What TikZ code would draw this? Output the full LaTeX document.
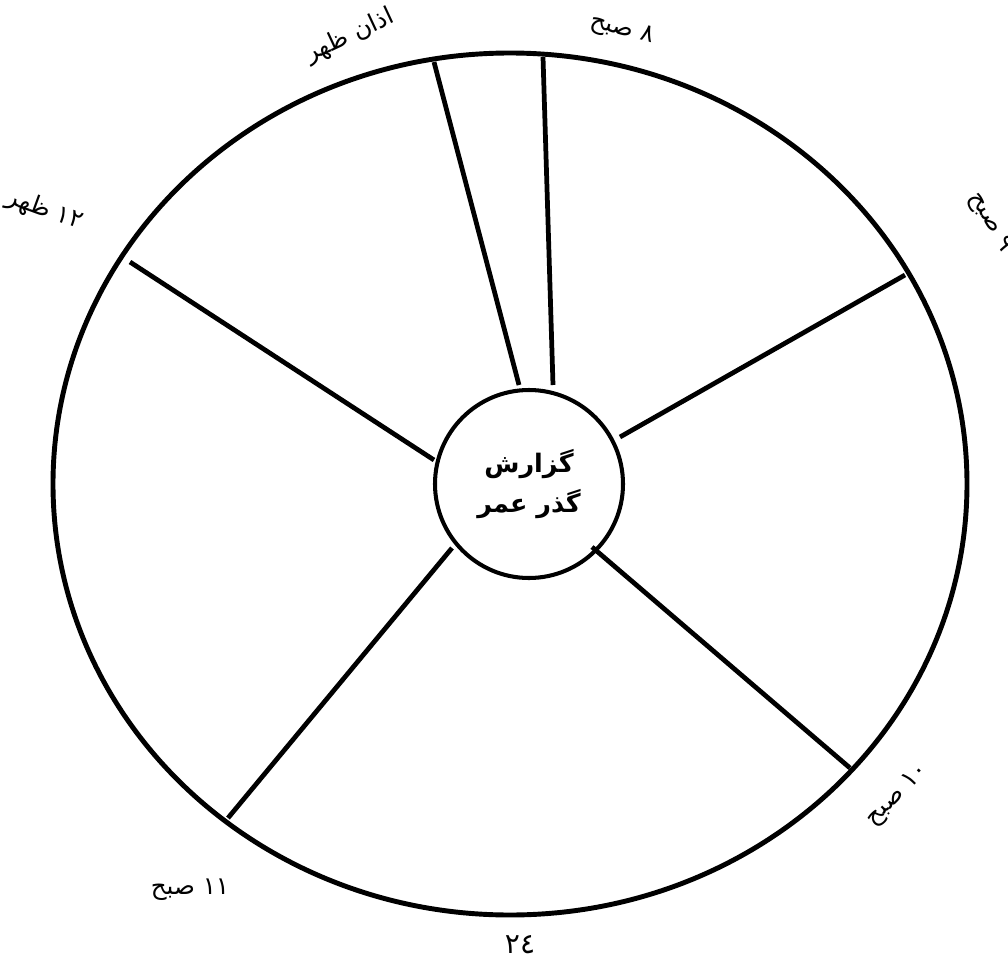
\documentclass[tikz,border=0pt]{standalone}
\usepackage{fontspec}
\TeXXeTstate=1
\newfontfamily\arabicfont[Script=Arabic]{DejaVu Sans}
\begin{document}
\begin{tikzpicture}[x=0.02cm,y=-0.02cm,
  rim/.style={line width=2.8pt},
  spoke/.style={line width=2.7pt},
  lbl/.style={font=\arabicfont\fontsize{14}{16}\selectfont, inner sep=0pt},
  hub/.style={circle, draw, line width=2.3pt, minimum size=188*0.02cm, inner sep=0pt,
    font=\arabicfont\bfseries\fontsize{14.5}{22}\selectfont, align=center}]
\useasboundingbox (0,0) rectangle (1008,967);
% outer rim
\draw[rim] (510,484) ellipse [x radius=457, y radius=431];
% hub
\node[hub] (hub) at (529,484) {\beginR گزارش\endR\\[1pt]\beginR گذر عمر\endR};
% spoke end points
\coordinate (i1) at (519,385); \coordinate (o1) at (434,62);
\coordinate (i2) at (553,385); \coordinate (o2) at (543,57);
\coordinate (i3) at (620,437); \coordinate (o3) at (905,275);
\coordinate (i4) at (592,547); \coordinate (o4) at (850,768);
\coordinate (i5) at (452,548); \coordinate (o5) at (228,818);
\coordinate (i6) at (434,460); \coordinate (o6) at (130,262);
\foreach \k in {1,...,6} \draw[spoke] (i\k) -- (o\k);
% labels
\node[lbl, rotate=25] (l1) at (350,36) {\beginR اذان ظهر\endR};
\node[lbl, rotate=-15] (l2) at (622,30) {\beginR\beginL ۸\endL\ صبح\endR};
\node[lbl, rotate=-60] (l3) at (990,222) {\beginR\beginL ۹\endL\ صبح\endR};
\node[lbl, rotate=-20] (l4) at (45,210) {\beginR\beginL ۱۲\endL\ ظهر\endR};
\node[lbl, rotate=45] (l5) at (898,795) {\beginR\beginL ۱۰\endL\ صبح\endR};
\node[lbl] (l6) at (190,890) {\beginR\beginL ۱۱\endL\ صبح\endR};
\node[lbl, font=\arabicfont\fontsize{16}{18}\selectfont] (l7) at (520,945) {\beginL ۲٤\endL};
\end{tikzpicture}
\end{document}
